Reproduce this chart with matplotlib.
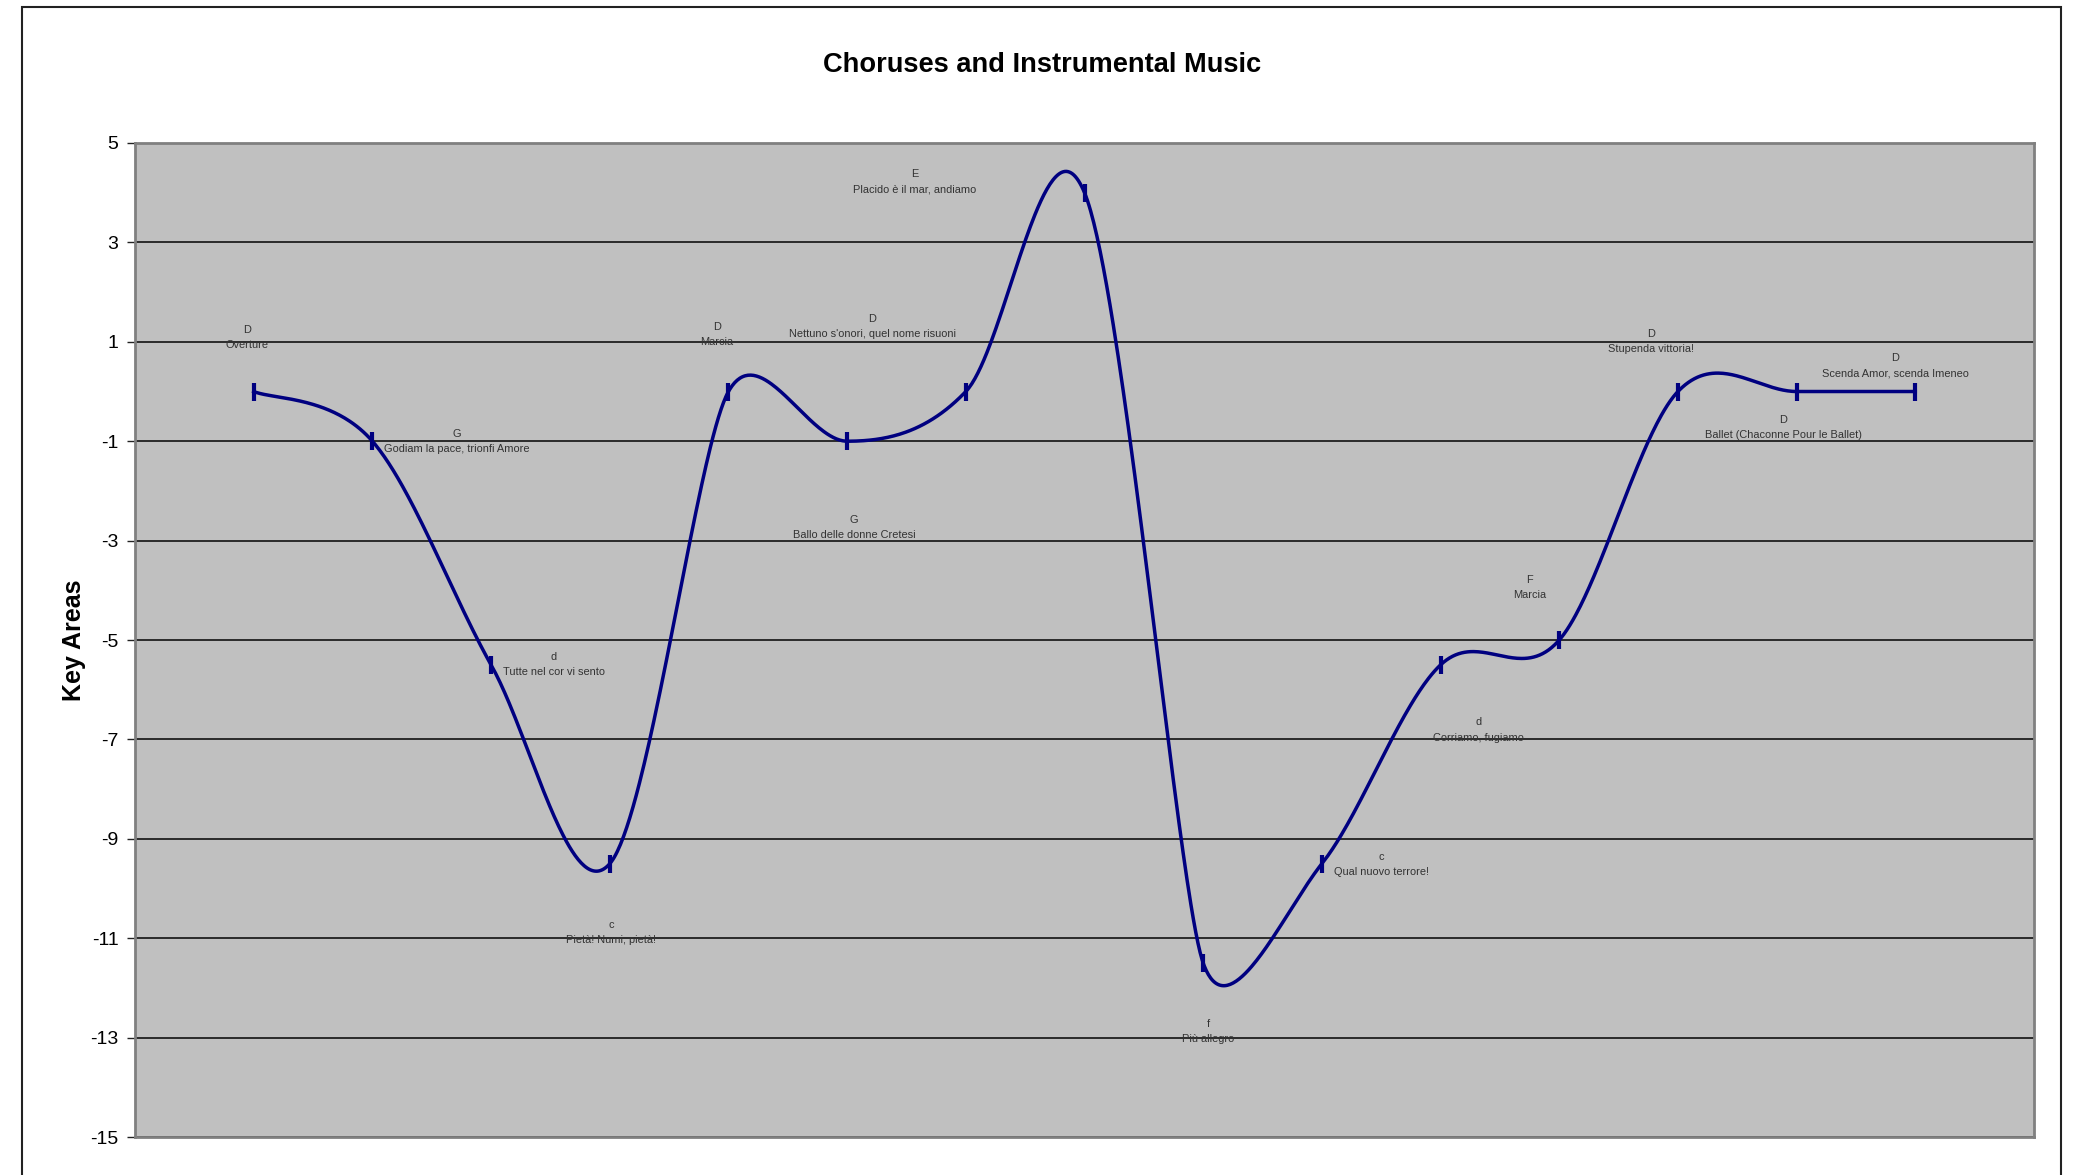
import numpy as np
import matplotlib
matplotlib.use("Agg")
import matplotlib.pyplot as plt
from matplotlib.patches import Rectangle

# Key area per number (1..15)
positions = list(range(1, 16))
key_values = [0, -1, -5.5, -9.5, 0, -1, 0, 4, -11.5, -9.5, -5.5, -5, 0, 0, 0]

# Annotations: key letter + piece title
keys = ["D", "G", "d", "c", "D", "D", "G", "E", "f", "c", "d", "F", "D", "D", "D"]
titles = ["Overture", "Godiam la pace, trionfi Amore", "Tutte nel cor vi sento",
          "Pietà! Numi, pietà!", "Marcia", "Nettuno s'onori, quel nome risuoni",
          "Ballo delle donne Cretesi", "Placido è il mar, andiamo", "Più allegro",
          "Qual nuovo terrore!", "Corriamo, fugiamo", "Marcia", "Stupenda vittoria!",
          "Ballet (Chaconne Pour le Ballet)", "Scenda Amor, scenda Imeneo"]
# label placement (data coords, centre of the two-line block)
label_x = [0.94, 2.71, 3.53, 4.01, 4.90, 6.21, 6.06, 6.57, 9.04, 10.50, 11.32, 11.75, 12.77, 13.89, 14.83]
label_y = [1.09, -1.00, -5.50, -10.88, 1.14, 1.30, -2.74, 4.22, -12.87, -9.52, -6.81, -3.95, 1.01, -0.73, 0.52]

yticks = list(range(5, -16, -2))


def smooth_curve(xs, ys, ux, uy, n=80):
    """Excel-like smoothed line: Bezier with Catmull-Rom handles,
    handle length capped at half the neighbouring segment (in pixels)"""
    pts = np.column_stack([xs, ys]).astype(float)
    scale = np.array([ux, uy])
    px = pts * scale
    m = len(px)
    handles = []
    for i in range(m):
        prev = px[i - 1] if i > 0 else px[i]
        nxt = px[i + 1] if i < m - 1 else px[i]
        v = (nxt - prev) / 6.0
        lens = []
        if i > 0:
            lens.append(np.linalg.norm(px[i] - px[i - 1]))
        if i < m - 1:
            lens.append(np.linalg.norm(px[i + 1] - px[i]))
        cap = min(lens) / 2.0
        L = np.linalg.norm(v)
        if L > cap and L > 0:
            v = v * cap / L
        handles.append(v)
    out = []
    t = np.linspace(0, 1, n)[:, None]
    for i in range(m - 1):
        p1, p2 = px[i], px[i + 1]
        c1 = p1 + handles[i]
        c2 = p2 - handles[i + 1]
        seg = ((1 - t) ** 3) * p1 + 3 * ((1 - t) ** 2) * t * c1 + 3 * (1 - t) * t ** 2 * c2 + t ** 3 * p2
        out.append(seg if i == 0 else seg[1:])
    out = np.vstack(out) / scale
    return out[:, 0], out[:, 1]


fig = plt.figure(figsize=(20.84, 11.75), dpi=100)
ax = fig.add_axes([0.0648, 0.0323, 0.9112, 0.846])

# outer chart border
fig.patches.append(Rectangle((22 / 2084, -0.05), (2061 - 22) / 2084, 1.05 - 7 / 1175,
                             transform=fig.transFigure, fill=False,
                             edgecolor="#222222", linewidth=1.5))

ax.set_facecolor("#C0C0C0")
for sp in ax.spines.values():
    sp.set_color("#808080")
    sp.set_linewidth(2)

ax.set_xlim(0, 16)
ax.set_ylim(-15, 5)
ax.set_yticks(yticks)
ax.set_yticklabels([str(v) for v in yticks], fontsize=14, family="Liberation Sans")
ax.tick_params(axis="y", length=6, width=1, color="#222222", pad=6)
ax.set_xticks([])
ax.grid(axis="y", color="#111111", linewidth=1.2)
ax.set_axisbelow(True)

# pixel size of one data unit, for the smoothing
ux = 0.9112 * 2084 / 16
uy = 0.846 * 1175 / 20
sx, sy = smooth_curve(positions, key_values, ux, uy)
ax.plot(sx, sy, color="#000080", linewidth=2.5, zorder=3)
ax.plot(positions, key_values, linestyle="none", marker="|", markersize=13,
        markeredgewidth=3, color="#000080", zorder=4)

for k, t, lx, ly in zip(keys, titles, label_x, label_y):
    ax.text(lx, ly, k + "\n" + t, ha="center", va="center", fontsize=7.9,
            family="Liberation Sans", color="#333333", linespacing=1.65, zorder=5)

ax.set_ylabel("Key Areas", fontsize=18, fontweight="bold", family="Liberation Sans")
ax.yaxis.set_label_coords(-0.026, 0.5)
fig.text(0.5, 1 - 65 / 1175, "Choruses and Instrumental Music", ha="center", va="center",
         fontsize=19.6, fontweight="bold", family="Liberation Sans")

fig.savefig("out.png", dpi=100)
